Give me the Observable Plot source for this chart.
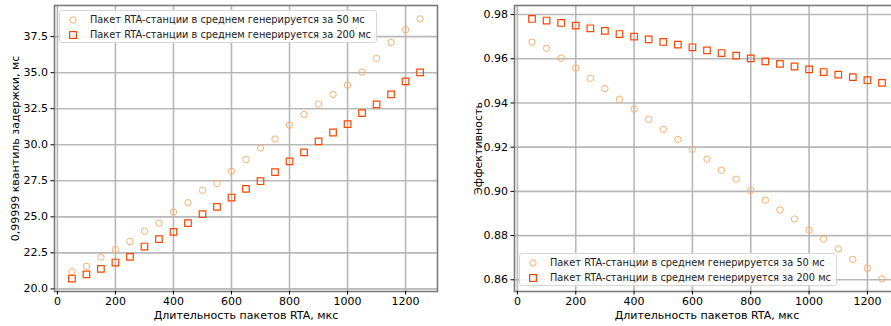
<!DOCTYPE html>
<html>
<head>
<meta charset="utf-8">
<script src="https://cdn.jsdelivr.net/npm/d3@7"></script>
<script src="https://cdn.jsdelivr.net/npm/@observablehq/plot@0.6"></script>
<style>
  html, body { margin: 0; padding: 0; background: #fff; width: 891px; height: 326px; overflow: hidden; }
  #wrap { position: relative; width: 891px; height: 326px; overflow: hidden; font-family: "DejaVu Sans", sans-serif; }
  .panel { position: absolute; top: 0; }
  .legend { position: absolute; background: rgba(255,255,255,0.85); border: 1px solid #d6d6d6; border-radius: 3px;
            font-family: "DejaVu Sans", sans-serif; font-size: 9.8px; color: #222; box-sizing: border-box; }
  .legend .row { position: absolute; left: 0; white-space: nowrap; height: 14px; line-height: 14px; }
  .legend svg { position: absolute; left: 8px; top: 2px; }
  .legend span { position: absolute; left: 30px; top: 0; }
</style>
</head>
<body>
<div id="wrap"></div>
<script>
// ---- data ----
const durations = [50,100,150,200,250,300,350,400,450,500,550,600,650,700,750,800,850,900,950,1000,1050,1100,1150,1200,1250];
const delay50  = [21.2,21.57,22.2,22.73,23.29,24.0,24.56,25.33,25.98,26.84,27.32,28.16,28.97,29.78,30.40,31.36,32.1,32.82,33.49,34.14,35.04,35.99,37.1,37.98,38.73];
const delay200 = [20.72,21.01,21.39,21.83,22.22,22.94,23.45,23.96,24.56,25.18,25.69,26.34,26.94,27.47,28.1,28.85,29.47,30.23,30.85,31.43,32.19,32.8,33.49,34.4,35.02];
const eff50  = [0.9675,0.9647,0.9603,0.9559,0.9512,0.9465,0.9417,0.9372,0.9326,0.9281,0.9235,0.919,0.9146,0.9096,0.9055,0.9004,0.896,0.8916,0.8875,0.8825,0.8784,0.874,0.8692,0.8652,0.8604];
const eff200 = [0.978,0.9773,0.9762,0.975,0.9738,0.9726,0.9712,0.97,0.9688,0.9676,0.9664,0.9652,0.9638,0.9626,0.9614,0.9602,0.9588,0.9577,0.9565,0.9552,0.954,0.9528,0.9517,0.9503,0.9491];
const seriesLabels = ["Пакет RTA-станции в среднем генерируется за 50 мс", "Пакет RTA-станции в среднем генерируется за 200 мс"];
const xTicks = [0,200,400,600,800,1000,1200];
const yTicksDelay = [20.0,22.5,25.0,27.5,30.0,32.5,35.0,37.5];
const yTicksEff = [0.86,0.88,0.90,0.92,0.94,0.96,0.98];
const xLabel = "Длительность пакетов RTA, мкс";
const yLabelDelay = "0,99999 квантиль задержки, мс";
const yLabelEff = "Эффективность";

const colorCircle = "#fdae6b";
const colorSquare = "#ff4500";

function rows(ys) { return durations.map((d, i) => ({x: d, y: ys[i]})); }

function makePanel({ys50, ys200, yDomain, yTicks, yFmt, yLabel, width, marginLeft, marginRight, yLabelX}) {
  const height = 326, marginTop = 5, marginBottom = 35;
  const chart = Plot.plot({
    width, height, marginLeft, marginRight, marginTop, marginBottom,
    style: { fontFamily: "DejaVu Sans, sans-serif", fontSize: "11px", color: "#000", background: "transparent", overflow: "visible" },
    x: { domain: [-10, 1310], ticks: xTicks, tickFormat: d => String(d), tickSize: 3.5, tickPadding: 2, label: null },
    y: { domain: yDomain, ticks: yTicks, tickFormat: yFmt, tickSize: 3.5, tickPadding: 3, label: null },
    marks: [
      Plot.gridX(xTicks, { stroke: "#b0b0b0", strokeOpacity: 0.9, strokeWidth: 1.6 }),
      Plot.gridY(yTicks, { stroke: "#b0b0b0", strokeOpacity: 0.9, strokeWidth: 1.6 }),
      Plot.frame({ stroke: "#7a7a7a", strokeWidth: 1.6 }),
      Plot.axisX({ ticks: xTicks, tickFormat: d => String(d), tickSize: 3.5, tickPadding: 2, label: null, fontSize: 11 }),
      Plot.axisY({ ticks: yTicks, tickFormat: yFmt, tickSize: 3.5, tickPadding: 3, label: null, fontSize: 11 }),
      Plot.dot(rows(ys50), { x: "x", y: "y", symbol: "circle", r: 3.2, stroke: colorCircle, strokeWidth: 1, fill: "none" }),
      Plot.dot(rows(ys200), { x: "x", y: "y", symbol: "square", r: 3.7, stroke: colorSquare, strokeWidth: 1.2, fill: "none" }),
      Plot.text([xLabel], { frameAnchor: "bottom", dy: 27, fontSize: 11, fill: "#000" }),
      Plot.text([yLabel], { frameAnchor: "left", dx: yLabelX, rotate: -90, textAnchor: "middle", fontSize: 11, fill: "#000" })
    ]
  });
  return chart;
}

const wrap = document.getElementById("wrap");

const left = makePanel({
  ys50: delay50, ys200: delay200,
  yDomain: [19.82, 39.66], yTicks: yTicksDelay, yFmt: d => d.toFixed(1),
  yLabel: yLabelDelay, width: 445, marginLeft: 54, marginRight: 8, yLabelX: -39
});
left.classList.add("panel");
left.style.left = "0px";
wrap.appendChild(left);

const right = makePanel({
  ys50: eff50, ys200: eff200,
  yDomain: [0.8547, 0.9841], yTicks: yTicksEff, yFmt: d => d.toFixed(2),
  yLabel: yLabelEff, width: 465, marginLeft: 69, marginRight: 11, yLabelX: -36
});
right.classList.add("panel");
right.style.left = "445px";
wrap.appendChild(right);

function makeLegend(x, y, w, h) {
  const lg = document.createElement("div");
  lg.className = "legend";
  Object.assign(lg.style, { left: x + "px", top: y + "px", width: w + "px", height: h + "px" });
  seriesLabels.forEach((label, i) => {
    const row = document.createElement("div");
    row.className = "row";
    row.style.top = (2 + i * 15) + "px";
    row.style.width = w + "px";
    const sym = i === 0
      ? `<svg width="12" height="10"><circle cx="5" cy="5" r="3.2" fill="none" stroke="${colorCircle}" stroke-width="1"/></svg>`
      : `<svg width="12" height="10"><rect x="1.6" y="1.6" width="6.8" height="6.8" fill="none" stroke="${colorSquare}" stroke-width="1.2"/></svg>`;
    row.innerHTML = sym + `<span>${label}</span>`;
    lg.appendChild(row);
  });
  wrap.appendChild(lg);
}
makeLegend(59, 10, 318, 33);
makeLegend(519, 253, 318, 33);
</script>
</body>
</html>
